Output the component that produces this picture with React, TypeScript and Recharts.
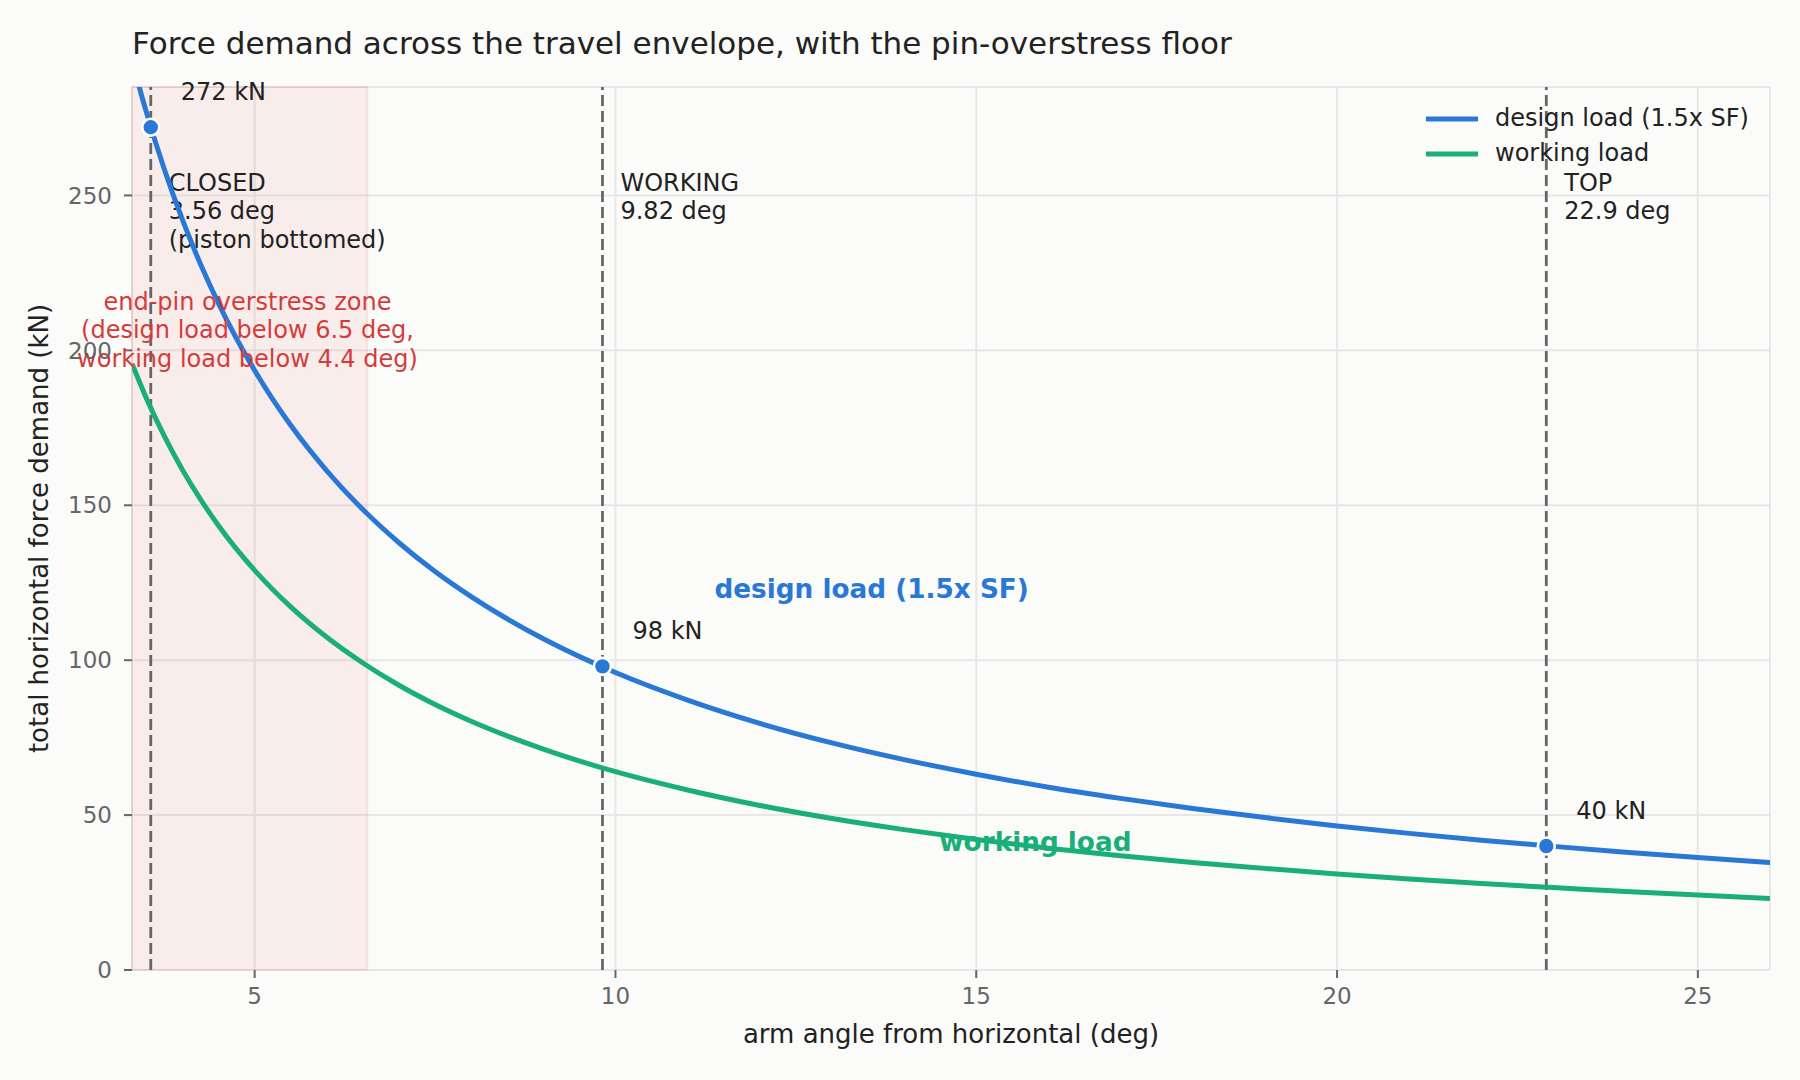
import React from "react";
import {
  ComposedChart,
  Line,
  XAxis,
  YAxis,
  CartesianGrid,
  ReferenceArea,
  ReferenceLine,
  ReferenceDot,
  Legend,
} from "recharts";

// arm angle (deg) and horizontal force demand (kN)
const ANGLES = [
  3.3, 3.5, 3.75, 4, 4.25, 4.5, 5, 5.5, 6, 6.5, 7, 7.5, 8, 9, 10, 11, 12, 13,
  14, 15, 16, 17, 18, 19, 20, 21, 22, 23, 24, 25, 26,
];
const DESIGN_LOAD = [
  293.6, 276.8, 258.3, 242.1, 227.8, 215.1, 193.5, 175.8, 161.1, 148.6, 137.9,
  128.6, 120.5, 106.9, 96.0, 87.1, 79.6, 73.3, 67.9, 63.2, 59.0, 55.4, 52.1,
  49.2, 46.5, 44.1, 41.9, 39.9, 38.0, 36.3, 34.7,
];
const WORKING_LOAD = [
  195.7, 184.5, 172.2, 161.4, 151.9, 143.4, 129.0, 117.2, 107.4, 99.1, 91.9,
  85.7, 80.3, 71.3, 64.0, 58.1, 53.1, 48.9, 45.3, 42.1, 39.3, 36.9, 34.7, 32.8,
  31.0, 29.4, 27.9, 26.6, 25.3, 24.2, 23.1,
];

const X_TICKS = [5, 10, 15, 20, 25];
const Y_TICKS = [0, 50, 100, 150, 200, 250];

// travel stations
const STATION_NAMES = ["CLOSED", "WORKING", "TOP"];
const STATION_ANGLES = [3.56, 9.82, 22.9];
const STATION_FORCES = [272, 98, 40];
const STATION_NOTES = ["(piston bottomed)", "", ""];

// pin overstress zone
const ZONE_FROM = 3.3;
const ZONE_TO = 6.56;
const ZONE_TEXT = [
  "end-pin overstress zone",
  "(design load below 6.5 deg,",
  "working load below 4.4 deg)",
];

const BLUE = "#2a78d6";
const GREEN = "#1aae78";
const RED = "#d43b3b";
const INK = "#222222";
const BG = "#fbfbf9";
const FONT = '"DejaVu Sans", sans-serif';
const NOTE_SIZE = 24;

const data = ANGLES.map((a, i) => ({
  angle: a,
  design: DESIGN_LOAD[i],
  working: WORKING_LOAD[i],
}));

const stationLabel = (lines: string[]) => (props: any) => {
  const vb = props.viewBox || { x: 0, y: 0 };
  const x = vb.x + 18;
  const y = vb.y + 104;
  return (
    <text x={x} y={y} fill={INK} fontSize={NOTE_SIZE} fontFamily={FONT}>
      {lines.map((l, i) => (
        <tspan key={i} x={x} dy={i === 0 ? 0 : 28.4}>
          {l}
        </tspan>
      ))}
    </text>
  );
};

const markerShape = (text: string) => (p: any) => (
  <g>
    <circle cx={p.cx} cy={p.cy} r={8.5} fill={BLUE} stroke="#ffffff" strokeWidth={2.6} />
    <text
      x={p.cx + 30}
      y={p.cy - 27}
      fill={INK}
      fontSize={NOTE_SIZE}
      fontFamily={FONT}
    >
      {text}
    </text>
  </g>
);

const textShape =
  (lines: string[], color: string, size: number, weight: string, gap = 28.4) =>
  (p: any) => (
    <text
      x={p.cx}
      y={p.cy}
      fill={color}
      fontSize={size}
      fontWeight={weight}
      fontFamily={FONT}
      textAnchor="middle"
    >
      {lines.map((l, i) => (
        <tspan key={i} x={p.cx} dy={i === 0 ? 0 : gap}>
          {l}
        </tspan>
      ))}
    </text>
  );

const renderLegend = (props: any) => {
  const { payload = [] } = props;
  return (
    <div style={{ fontFamily: FONT }}>
      {payload.map((entry: any) => (
        <div
          key={entry.value}
          style={{ display: "flex", alignItems: "center", height: 35 }}
        >
          <svg width={52} height={8}>
            <line x1={0} y1={4} x2={52} y2={4} stroke={entry.color} strokeWidth={5} />
          </svg>
          <span
            style={{
              marginLeft: 17,
              fontSize: 24,
              color: INK,
              lineHeight: "35px",
              whiteSpace: "nowrap",
            }}
          >
            {entry.value}
          </span>
        </div>
      ))}
    </div>
  );
};

const yAxisLabel = (props: any) => {
  const vb = props.viewBox || { x: 0, y: 0, height: 0 };
  const x = vb.x + 48;
  const y = vb.y + vb.height / 2;
  return (
    <text
      x={x}
      y={y}
      transform={`rotate(-90 ${x} ${y})`}
      textAnchor="middle"
      fill={INK}
      fontSize={26}
      fontFamily={FONT}
    >
      total horizontal force demand (kN)
    </text>
  );
};

const xAxisLabel = (props: any) => {
  const vb = props.viewBox || { x: 0, y: 0, width: 0 };
  return (
    <text
      x={vb.x + vb.width / 2}
      y={vb.y + 73}
      textAnchor="middle"
      fill={INK}
      fontSize={26}
      fontFamily={FONT}
    >
      arm angle from horizontal (deg)
    </text>
  );
};

export default function App() {
  const tickStyle = { fill: "#666666", fontSize: 23, fontFamily: FONT };
  return (
    <div
      style={{
        position: "relative",
        width: 1800,
        height: 1080,
        background: BG,
        fontFamily: FONT,
      }}
    >
      <style>{`body{margin:0;background:${BG};}`}</style>
      <div
        style={{
          position: "absolute",
          left: 132,
          top: 27.5,
          fontSize: 31,
          lineHeight: "30px",
          color: INK,
          whiteSpace: "nowrap",
        }}
      >
        Force demand across the travel envelope, with the pin-overstress floor
      </div>
      <ComposedChart
        width={1800}
        height={1080}
        data={data}
        margin={{ top: 87, right: 30, bottom: 0, left: 0 }}
      >
        <CartesianGrid stroke="#e7e7e7" strokeWidth={2} />
        <XAxis
          dataKey="angle"
          type="number"
          domain={[3.3, 26]}
          allowDataOverflow
          ticks={X_TICKS}
          interval={0}
          height={110}
          axisLine={false}
          tickLine={{ stroke: "#666666", strokeWidth: 2 }}
          tickSize={8}
          tickMargin={10}
          tick={tickStyle}
          label={{ content: xAxisLabel }}
        />
        <YAxis
          type="number"
          domain={[0, 285]}
          allowDataOverflow
          ticks={Y_TICKS}
          interval={0}
          width={132}
          axisLine={false}
          tickLine={{ stroke: "#666666", strokeWidth: 2 }}
          tickSize={8}
          tickMargin={12}
          tick={tickStyle}
          label={{ content: yAxisLabel }}
        />
        <ReferenceArea
          x1={ZONE_FROM}
          x2={ZONE_TO}
          fill="#e05252"
          fillOpacity={0.08}
          stroke="#e05252"
          strokeOpacity={0.12}
          strokeWidth={2}
        />
        {STATION_ANGLES.map((a, i) => (
          <ReferenceLine
            key={STATION_NAMES[i]}
            x={a}
            stroke="#666666"
            strokeWidth={2.8}
            strokeDasharray="11 5"
            label={{
              content: stationLabel(
                [STATION_NAMES[i], `${a} deg`, STATION_NOTES[i]].filter(Boolean)
              ),
            }}
          />
        ))}
        <Line
          dataKey="design"
          name="design load (1.5x SF)"
          type="monotone"
          stroke={BLUE}
          strokeWidth={5}
          dot={false}
          activeDot={false}
          isAnimationActive={false}
        />
        <Line
          dataKey="working"
          name="working load"
          type="monotone"
          stroke={GREEN}
          strokeWidth={5}
          dot={false}
          activeDot={false}
          isAnimationActive={false}
        />
        {STATION_ANGLES.map((a, i) => (
          <ReferenceDot
            key={`m-${STATION_NAMES[i]}`}
            x={a}
            y={STATION_FORCES[i]}
            r={8.5}
            shape={markerShape(`${STATION_FORCES[i]} kN`)}
          />
        ))}
        <ReferenceDot
          x={4.9}
          y={213}
          r={0}
          shape={textShape(ZONE_TEXT, RED, NOTE_SIZE, "normal")}
        />
        <ReferenceDot
          x={13.55}
          y={120}
          r={0}
          shape={textShape(["design load (1.5x SF)"], BLUE, 26.3, "bold")}
        />
        <ReferenceDot
          x={15.82}
          y={38.4}
          r={0}
          shape={textShape(["working load"], GREEN, 26.3, "bold")}
        />
        <Legend
          layout="horizontal"
          verticalAlign="middle"
          align="center"
          wrapperStyle={{ left: 1426, top: 101, width: 360, height: 70 }}
          content={renderLegend}
        />
      </ComposedChart>
    </div>
  );
}
